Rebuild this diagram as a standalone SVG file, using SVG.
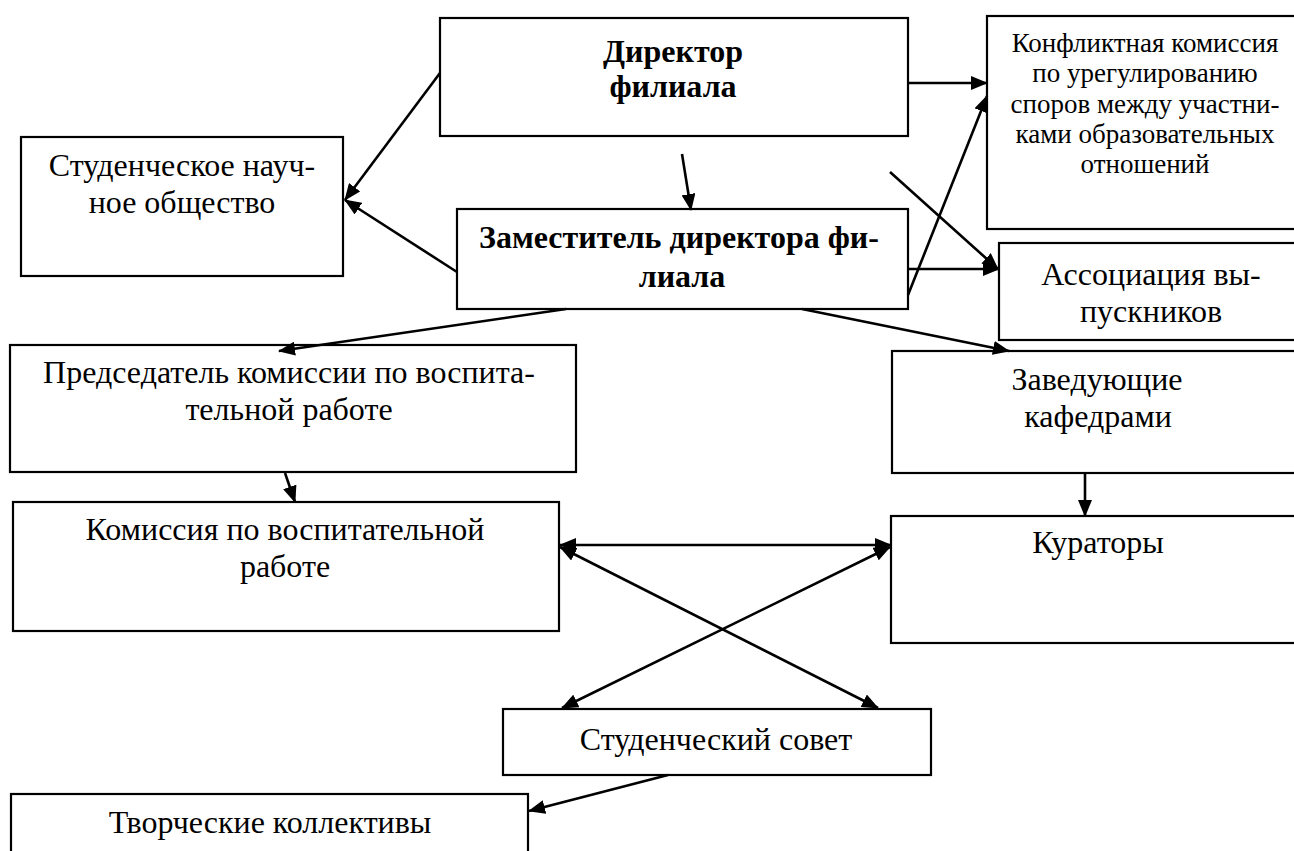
<svg xmlns="http://www.w3.org/2000/svg" width="1294" height="851" viewBox="0 0 1294 851">
<defs>
<style>
.box{fill:#fff;stroke:#000;stroke-width:2.2}
.t{font-family:'Liberation Serif','DejaVu Serif',serif;font-size:32px;fill:#000;text-anchor:middle}
.b{font-weight:bold}
.s{font-size:27px}
.c line{stroke:#000;stroke-width:2.6}
</style>
<marker id="ah" markerUnits="userSpaceOnUse" markerWidth="17" markerHeight="14" refX="16" refY="7" orient="auto-start-reverse" viewBox="0 0 17 14">
<path d="M0,0 L17,7 L0,14 z" fill="#000"/>
</marker>
</defs>
<rect width="1294" height="851" fill="#fff"/>

<g id="director">
<rect class="box" x="440" y="18" width="468" height="118"/>
<text class="t b" x="673" y="62">Директор</text>
<text class="t b" x="673" y="97">филиала</text>
</g>

<g id="konflikt">
<rect class="box" x="987" y="16" width="340" height="213"/>
<text class="t s" x="1145" y="52">Конфликтная комиссия</text>
<text class="t s" x="1145" y="82">по урегулированию</text>
<text class="t s" x="1145" y="113">споров между участни-</text>
<text class="t s" x="1145" y="143">ками образовательных</text>
<text class="t s" x="1145" y="173">отношений</text>
</g>

<g id="sno">
<rect class="box" x="21" y="137" width="322" height="139"/>
<text class="t" x="182" y="176">Студенческое науч-</text>
<text class="t" x="182" y="213">ное общество</text>
</g>

<g id="deputy">
<rect class="box" x="457" y="209" width="451" height="100"/>
<text class="t b" x="679" y="248">Заместитель директора фи-</text>
<text class="t b" x="682" y="287">лиала</text>
</g>

<g id="assoc">
<rect class="box" x="999" y="243" width="330" height="97"/>
<text class="t" x="1151" y="285">Ассоциация вы-</text>
<text class="t" x="1151" y="322">пускников</text>
</g>

<g id="chair">
<rect class="box" x="10" y="345" width="566" height="127"/>
<text class="t" x="289" y="383">Председатель комиссии по воспита-</text>
<text class="t" x="289" y="420">тельной работе</text>
</g>

<g id="heads">
<rect class="box" x="892" y="351" width="440" height="122"/>
<text class="t" x="1097" y="390">Заведующие</text>
<text class="t" x="1098" y="427">кафедрами</text>
</g>

<g id="commission">
<rect class="box" x="13" y="502" width="546" height="129"/>
<text class="t" x="285" y="540">Комиссия по воспитательной</text>
<text class="t" x="285" y="577">работе</text>
</g>

<g id="curators">
<rect class="box" x="891" y="516" width="440" height="127"/>
<text class="t" x="1098" y="553">Кураторы</text>
</g>

<g id="council">
<rect class="box" x="503" y="709" width="428" height="66"/>
<text class="t" x="716" y="750">Студенческий совет</text>
</g>

<g id="creative">
<rect class="box" x="11" y="794" width="517" height="80"/>
<text class="t" x="270" y="833">Творческие коллективы</text>
</g>

<g id="connectors" class="c">
<line x1="440" y1="73" x2="345" y2="200" marker-end="url(#ah)"/>
<line x1="457" y1="272" x2="345" y2="200" marker-end="url(#ah)"/>
<line x1="682" y1="154" x2="691" y2="210" marker-end="url(#ah)"/>
<line x1="908" y1="83" x2="987" y2="83" marker-end="url(#ah)"/>
<line x1="908" y1="295" x2="987" y2="96" marker-end="url(#ah)"/>
<line x1="890" y1="172" x2="998" y2="269" marker-end="url(#ah)"/>
<line x1="908" y1="269" x2="999" y2="269" marker-end="url(#ah)"/>
<line x1="566" y1="309" x2="279" y2="351" marker-end="url(#ah)"/>
<line x1="802" y1="309" x2="1009" y2="351" marker-end="url(#ah)"/>
<line x1="285" y1="473" x2="295" y2="502" marker-end="url(#ah)"/>
<line x1="1085" y1="473" x2="1085" y2="516" marker-end="url(#ah)"/>
<line x1="560" y1="545" x2="891" y2="545" marker-start="url(#ah)" marker-end="url(#ah)"/>
<line x1="560" y1="547" x2="878" y2="708" marker-start="url(#ah)" marker-end="url(#ah)"/>
<line x1="890" y1="547" x2="562" y2="708" marker-start="url(#ah)" marker-end="url(#ah)"/>
<line x1="668" y1="775" x2="529" y2="811" marker-end="url(#ah)"/>
</g>
</svg>
